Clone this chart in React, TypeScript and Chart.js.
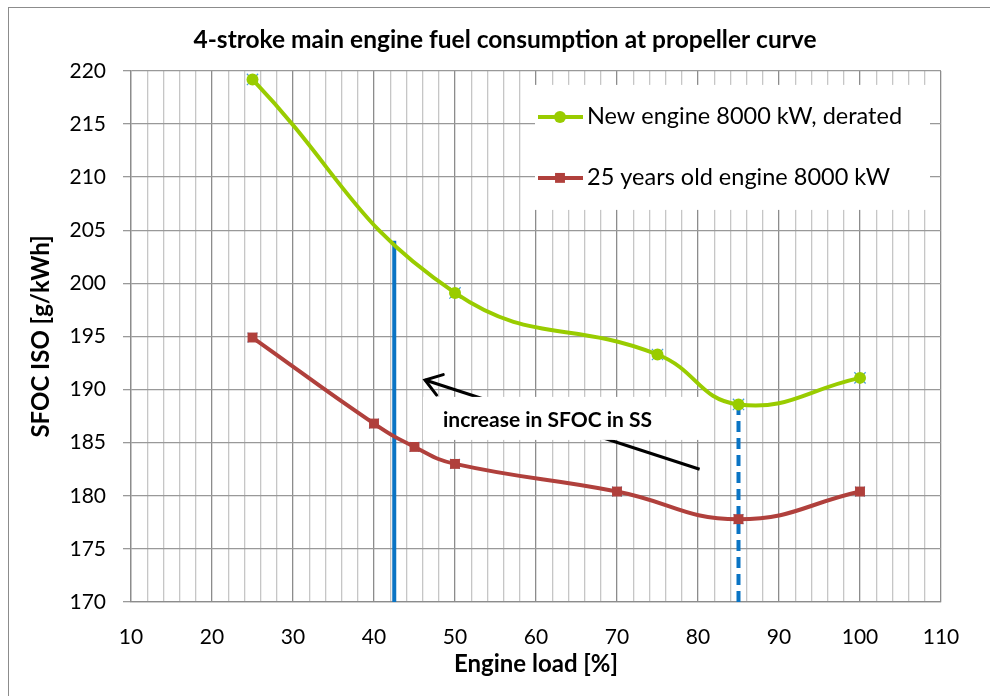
import { useEffect, useRef } from 'react';
import { Chart, registerables } from 'chart.js';

Chart.register(...registerables);

// ---- texts ----
const TITLE = '4-stroke main engine fuel consumption at propeller curve';
const X_TITLE = 'Engine load [%]';
const Y_TITLE = 'SFOC ISO [g/kWh]';
const NEW_LABEL = 'New engine 8000 kW, derated';
const OLD_LABEL = '25 years old engine 8000 kW';
const NOTE = 'increase in SFOC in SS';

// ---- axes ----
const X_MIN = 10;
const X_MAX = 110;
const X_STEP = 2;
const X_LABEL_STEP = 10;
const Y_MIN = 170;
const Y_MAX = 220;
const Y_STEP = 5;

// ---- series ----
const newLoad = [25, 50, 75, 85, 100];
const newSfoc = [219.2, 199.1, 193.3, 188.6, 191.1];
const oldLoad = [25, 40, 45, 50, 70, 85, 100];
const oldSfoc = [194.9, 186.8, 184.6, 183.0, 180.4, 177.8, 180.4];

// ---- annotation lines ----
const solidLoad = [42.5, 42.5];
const solidSfoc = [170, 204];
const dashedLoad = [85, 85];
const dashedSfoc = [170, 188.6];
const arrowLoad = [80.2, 46.3];
const arrowSfoc = [182.5, 190.9];

const GREEN = '#99cc00';
const RED = '#b0403c';
const BLUE = '#0a74c4';
const XMARK = '#4a9fd8';

const pts = (xs: number[], ys: number[]) => xs.map((x, i) => ({ x, y: ys[i] }));

const FONT = 'Lato';
const CANVAS_W = 1010;
const CANVAS_H = 696;

const ARROW_INDEX = 6;

function drawMarker(ctx: CanvasRenderingContext2D, style: string, r: number, x: number, y: number, color: string) {
  ctx.save();
  ctx.fillStyle = color;
  ctx.beginPath();
  if (style === 'circle') {
    ctx.arc(x, y, r, 0, Math.PI * 2);
  } else {
    const s = r * Math.SQRT1_2;
    ctx.rect(x - s, y - s, 2 * s, 2 * s);
  }
  ctx.fill();
  ctx.restore();
}

const overlayPlugin = {
  id: 'overlay',
  beforeDatasetsDraw(chart: any) {
    const { ctx, chartArea: a } = chart;
    // legend box
    const bx = a.left + 404;
    const by = a.top + 14;
    const bw = 395;
    const bh = 125;
    ctx.save();
    ctx.fillStyle = '#ffffff';
    ctx.fillRect(bx, by, bw, bh);
    const items = [
      { label: NEW_LABEL, color: GREEN, style: 'circle', r: 6 },
      { label: OLD_LABEL, color: RED, style: 'rect', r: 7 },
    ];
    items.forEach((it, i) => {
      const y = by + 32 + i * 61;
      ctx.strokeStyle = it.color;
      ctx.lineWidth = 4;
      ctx.beginPath();
      ctx.moveTo(bx + 3, y);
      ctx.lineTo(bx + 48, y);
      ctx.stroke();
      drawMarker(ctx, it.style, it.r, bx + 25, y, it.color);
      ctx.fillStyle = '#000';
      ctx.font = `23.5px ${FONT}`;
      ctx.textBaseline = 'middle';
      ctx.textAlign = 'left';
      ctx.fillText(it.label, bx + 52, y);
    });
    ctx.restore();
  },
  afterDatasetDraw(chart: any, args: any) {
    if (args.index !== ARROW_INDEX) return;
    const { ctx, chartArea: a } = chart;
    const meta = chart.getDatasetMeta(ARROW_INDEX);
    const p0 = meta.data[0];
    const p1 = meta.data[1];
    const ang = Math.atan2(p0.y - p1.y, p0.x - p1.x);
    const L = 19;
    const spread = 0.6;
    ctx.save();
    ctx.strokeStyle = '#000';
    ctx.lineWidth = 3;
    ctx.lineCap = 'round';
    ctx.beginPath();
    ctx.moveTo(p1.x + L * Math.cos(ang - spread), p1.y + L * Math.sin(ang - spread));
    ctx.lineTo(p1.x, p1.y);
    ctx.lineTo(p1.x + L * Math.cos(ang + spread), p1.y + L * Math.sin(ang + spread));
    ctx.stroke();
    // note box
    const nx = a.left + 292;
    const ny = a.top + 326;
    ctx.fillStyle = '#ffffff';
    ctx.fillRect(nx, ny, 290, 43);
    ctx.fillStyle = '#000';
    ctx.font = `bold 21px ${FONT}`;
    ctx.textBaseline = 'middle';
    ctx.textAlign = 'left';
    ctx.fillText(NOTE, nx + 20, ny + 23);
    ctx.restore();
  },
};

export default function App() {
  const ref = useRef<HTMLCanvasElement>(null);

  useEffect(() => {
    if (!ref.current) return;
    Chart.defaults.font.family = FONT;
    Chart.defaults.color = '#000';
    const chart = new Chart(ref.current, {
      type: 'line',
      data: {
        datasets: [
          {
            label: NEW_LABEL,
            data: pts(newLoad, newSfoc),
            borderColor: GREEN,
            backgroundColor: GREEN,
            borderWidth: 4,
            tension: 0.45,
            pointStyle: 'circle',
            pointRadius: 6,
            pointBorderWidth: 0,
            order: 1,
          },
          {
            label: OLD_LABEL,
            data: pts(oldLoad, oldSfoc),
            borderColor: RED,
            backgroundColor: RED,
            borderWidth: 4,
            tension: 0.45,
            pointStyle: 'rect',
            pointRadius: 7,
            pointBorderWidth: 0,
            order: 2,
          },
          {
            label: 'x-new',
            data: pts(newLoad, newSfoc),
            showLine: false,
            pointStyle: 'crossRot',
            pointRadius: 8,
            pointBorderColor: XMARK,
            pointBorderWidth: 1.2,
            order: 5,
          },
          {
            label: 'x-old',
            data: pts(oldLoad, oldSfoc),
            showLine: false,
            pointStyle: 'crossRot',
            pointRadius: 7,
            pointBorderColor: XMARK,
            pointBorderWidth: 1.2,
            order: 5,
          },
          {
            label: 'solid',
            data: pts(solidLoad, solidSfoc),
            borderColor: BLUE,
            borderWidth: 4,
            pointRadius: 0,
            tension: 0,
            borderCapStyle: 'butt',
            order: 3,
          },
          {
            label: 'dashed',
            data: pts(dashedLoad, dashedSfoc),
            borderColor: BLUE,
            borderWidth: 4,
            borderDash: [11, 6],
            pointRadius: 0,
            tension: 0,
            order: 3,
          },
          {
            label: 'arrow',
            data: pts(arrowLoad, arrowSfoc),
            borderColor: '#000',
            borderWidth: 3,
            pointRadius: 0,
            tension: 0,
            order: 10,
          },
        ],
      },
      options: {
        animation: false,
        responsive: false,
        layout: { padding: { left: 0, right: 0, top: 0, bottom: 0 } },
        plugins: {
          legend: { display: false },
          tooltip: { enabled: false },
          title: {
            display: true,
            text: TITLE,
            color: '#000',
            font: { family: FONT, size: 24.5, weight: 'bold' },
            padding: { top: 25, bottom: 16.5 },
          },
        },
        scales: {
          x: {
            type: 'linear',
            min: X_MIN,
            max: X_MAX,
            afterFit: (s: any) => {
              s.height = 94;
            },
            ticks: {
              stepSize: X_STEP,
              autoSkip: false,
              maxRotation: 0,
              padding: 23,
              color: '#000',
              font: { family: FONT, size: 21 },
              callback: (v: any) => (Number(v) % X_LABEL_STEP === 0 ? String(v) : ''),
            },
            grid: {
              drawTicks: false,
              color: (c: any) => (c.tick && c.tick.value % X_LABEL_STEP === 0 ? '#8c8c8c' : '#c6c6c6'),
              lineWidth: 1.3,
            },
            border: { color: '#8c8c8c', width: 1.3 },
            title: {
              display: true,
              text: X_TITLE,
              color: '#000',
              font: { family: FONT, size: 24, weight: 'bold' },
              padding: { top: 0, bottom: 17.5 },
            },
          },
          y: {
            type: 'linear',
            min: Y_MIN,
            max: Y_MAX,
            afterFit: (s: any) => {
              s.width = 131;
            },
            ticks: {
              stepSize: Y_STEP,
              padding: 17,
              color: '#000',
              font: { family: FONT, size: 21 },
            },
            grid: {
              drawTicks: true,
              tickLength: 8,
              color: '#999999',
              lineWidth: 1.3,
            },
            border: { color: '#8c8c8c', width: 1.3 },
            title: {
              display: true,
              text: Y_TITLE,
              color: '#000',
              font: { family: FONT, size: 24, weight: 'bold' },
              padding: { top: 27, bottom: 0 },
            },
          },
          // empty right-hand spacer so the plot ends at the right place
          spacer: {
            type: 'linear',
            position: 'right',
            display: true,
            afterFit: (s: any) => {
              s.width = CANVAS_W - 941;
            },
            grid: { display: false, drawTicks: false },
            border: { display: false },
            ticks: { display: false },
          },
        },
      },
      plugins: [overlayPlugin],
    } as any);
    return () => chart.destroy();
  }, []);

  return (
    <div style={{ position: 'fixed', left: 0, top: 0, width: 990, height: 696, overflow: 'hidden', background: '#fff' }}>
      <div
        style={{
          position: 'absolute',
          left: 8,
          top: 7,
          width: 1100,
          height: 800,
          border: '1px solid #8c8c8c',
        }}
      />
      <canvas
        ref={ref}
        width={CANVAS_W}
        height={CANVAS_H}
        style={{ position: 'absolute', left: 0, top: 0, width: CANVAS_W, height: CANVAS_H }}
      />
    </div>
  );
}
